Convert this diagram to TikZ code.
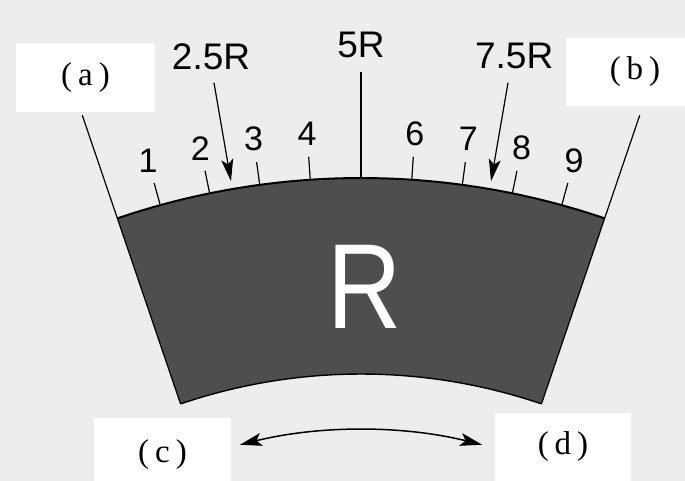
\documentclass[tikz,border=0pt]{standalone}
\usepackage{graphicx}
\usepackage{fontspec}
\setmainfont{Liberation Serif}
\setsansfont{Liberation Sans}
\usepackage{tikz}
\usetikzlibrary{arrows.meta}
\definecolor{paper}{HTML}{EDEDED}
\definecolor{sectorgray}{HTML}{4E4E4E}

\begin{document}
\begin{tikzpicture}[x=1pt, y=1pt, line width=1.2pt,
    tick/.style={line width=1.2pt},
    pointer/.style={-{Stealth[length=22pt, width=12pt, inset=5pt]}, line width=1.2pt},
    num/.style={font=\sffamily\fontsize{34}{34}\selectfont, inner sep=0pt},
    radlbl/.style={font=\sffamily\fontsize{37}{37}\selectfont, inner sep=0pt},
    tag/.style={fill=white, inner sep=0pt, font=\fontsize{33}{33}\selectfont}]
  % === Pozadi ===
  \fill[paper] (0,0) rectangle (685,481);
  \useasboundingbox (0,0) rectangle (685,481);
  % === Stitky (a)-(d) ===
  \node[tag, minimum width=139, minimum height=69] (ta) at (85.5,403.5) {(\hspace{6pt}a\hspace{6pt})};
  \node[tag, minimum width=138, minimum height=68] (tb) at (635,409) {(\hspace{6pt}b\hspace{6pt})};
  \node[tag, minimum width=137, minimum height=74] (tc) at (162.5,26) {(\hspace{6pt}c\hspace{6pt})};
  \node[tag, minimum width=136, minimum height=68] (td) at (563,34) {(\hspace{6pt}d\hspace{6pt})};
  \begin{scope}[shift={(361,-453)}]
    % === Vysec ===
    \fill[sectorgray] (71.2:560) -- (71.2:756)
      arc[start angle=71.2, end angle=108.8, radius=756] -- (108.8:560)
      arc[start angle=108.8, end angle=71.2, radius=560] -- cycle;
    \draw[line width=2pt] (71.2:756) arc[start angle=71.2, end angle=108.8, radius=756];
    \draw[line width=1.4pt] (71.2:560) arc[start angle=71.2, end angle=108.8, radius=560];
    % === Boky ===
    \draw (71.2:560) -- (71.2:865);
    \draw (108.8:560) -- (108.8:865);
    % === Carky 1..9 ===
    \foreach \i in {1,2,3,4,6,7,8,9} {
      \draw[tick] ({90-(\i-5)*3.85}:756) -- ({90-(\i-5)*3.85}:779);
      \node[num] (n\i) at ({90-(\i-5)*3.85}:802) {\i};
    }
    % === 5R ===
    \draw[tick] (90:756) -- (90:862);
    \node[radlbl] (l5) at (90:889) {5R};
    % === 2.5R a 7.5R ===
    \coordinate (s25) at (99.8:864);
    \coordinate (t25) at (99.8:764);
    \node[radlbl] (l25) at (99.7:890) {2.5R};
    \draw[pointer] (s25) -- (t25);
    \coordinate (s75) at (80.2:864);
    \coordinate (t75) at (80.2:764);
    \node[radlbl] (l75) at (80.1:891) {7.5R};
    \draw[pointer] (s75) -- (t75);
    % === Obloukova sipka dole ===
    \draw[{Stealth[length=22pt, width=13pt, inset=5pt]}-{Stealth[length=22pt, width=13pt, inset=5pt]}, line width=1.5pt]
      (103.9:504) arc[start angle=103.9, end angle=76.1, radius=504];
  \end{scope}
  % === Velke R ===
  \node[font=\sffamily\fontsize{121}{121}\selectfont, text=white, inner sep=0pt] (bigR)
    at (364.5,194.5) {\scalebox{0.85}[1]{R}};
\end{tikzpicture}
\end{document}
